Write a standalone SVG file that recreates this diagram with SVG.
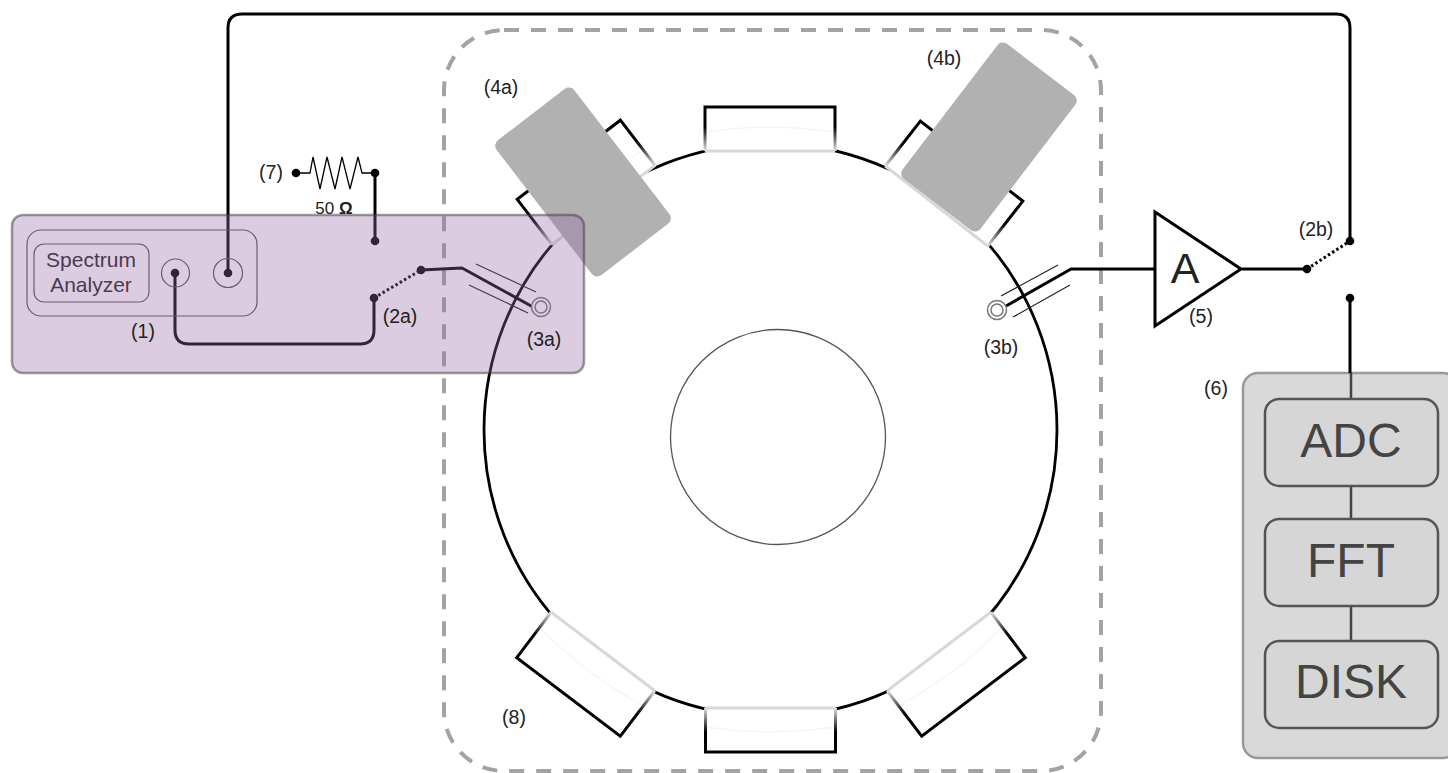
<svg xmlns="http://www.w3.org/2000/svg" width="1448" height="773" viewBox="0 0 1448 773">
<style>
text{font-family:"Liberation Sans",Arial,sans-serif;fill:#222}
.lb{font-size:19.500px;text-anchor:middle}
.w{fill:none;stroke:#000;stroke-width:3;stroke-linejoin:round}
.dot{fill:#000}
.dt{fill:none;stroke:#000;stroke-width:3;stroke-dasharray:2.5 2.5}
.thin{fill:none;stroke:#222;stroke-width:1.2}
.port-b{fill:#fff;stroke:none}
.base{stroke:#d8d8d8;stroke-width:3;fill:none}
.gr{fill:#b1b1b1}
.proc{fill:#d6d6d6;stroke:#555;stroke-width:2.5}
.proct{font-size:48px;text-anchor:middle;fill:#444}
</style>
<defs>
<linearGradient id="g57" gradientUnits="userSpaceOnUse" x1="0" y1="0" x2="0" y2="-57"><stop offset="0" stop-color="#e0e0e0"/><stop offset="0.5" stop-color="#000"/></linearGradient>
<linearGradient id="g44" gradientUnits="userSpaceOnUse" x1="0" y1="0" x2="0" y2="-44"><stop offset="0" stop-color="#e0e0e0"/><stop offset="0.55" stop-color="#000"/></linearGradient>
<g id="portS"><rect class="port-b" x="-65" y="-44" width="130" height="45"/><path d="M-65-19Q0-29 65-19" fill="none" stroke="#f2f2f2"/><path d="M-65 0V-44H65V0" fill="none" stroke="url(#g44)" stroke-width="3"/><path class="base" d="M-65 0H65"/></g>
<g id="portL"><rect class="port-b" x="-65" y="-57" width="130" height="58"/><path d="M-65-19Q0-29 65-19" fill="none" stroke="#f2f2f2"/><path d="M-65 0V-57H65V0" fill="none" stroke="url(#g57)" stroke-width="3"/><path class="base" d="M-65 0H65"/></g>
</defs>
<g id="enclosure"><rect x="444" y="30" width="657" height="741" rx="60" fill="none" stroke="#a3a3a3" stroke-width="4" stroke-dasharray="15 12"/></g>
<g id="cavity">
<circle cx="770.5" cy="430" r="286.5" fill="#fff" stroke="#000" stroke-width="2.800"/>
<circle cx="778" cy="437" r="107.5" fill="none" stroke="#555" stroke-width="1.3"/>
</g>
<g id="ports">
<use href="#portS" transform="translate(770 151)"/>
<use href="#portS" transform="translate(770.5 708) rotate(180)"/>
<use href="#portL" transform="translate(603.5 205) rotate(-37.5)"/>
<use href="#portL" transform="translate(936.5 206) rotate(38)"/>
<use href="#portL" transform="translate(603 651.5) rotate(-142.8)"/>
<use href="#portL" transform="translate(939 651.5) rotate(142.8)"/>
</g>
<g id="tuner-4a"><rect class="gr" x="-85" y="-49" width="170" height="98" rx="7" transform="translate(583 182) rotate(52.5)"/></g>
<g id="tuner-4b"><rect class="gr" x="-85" y="-49" width="170" height="98" rx="7" transform="translate(989 137) rotate(-52.6)"/></g>
<g id="connectors">
<path class="w" d="M228 273V28Q228 14 242 14H1336Q1350 14 1350 28V241"/>
<path class="w" d="M175 273V330Q175 344 189 344H360Q374 344 374 330V298"/>
<path class="dt" d="M374 298L421 270"/>
<path class="w" d="M421 270L462 268L533 307"/>
<path class="thin" d="M476 264L536 292M469 285L528 313"/>
<path class="w" d="M375 241V173"/>
<path d="M296 173H310L313 157L320 189L327 157L335 189L342 157L350 189L358 157L362 173H375" fill="none" stroke="#000" stroke-width="1.3"/>
<path class="w" d="M1006 306L1071 269H1155"/>
<path class="thin" d="M1001 296L1058 265M1013 317L1070 285"/>
<path class="w" d="M1242 269H1307"/>
<path class="dt" d="M1307 269L1350 241"/>
</g>
<g id="dots">
<circle class="dot" cx="228" cy="273" r="4.300"/><circle class="dot" cx="175" cy="273" r="4.300"/>
<circle class="dot" cx="374" cy="298" r="4.300"/><circle class="dot" cx="421" cy="270" r="4.300"/>
<circle class="dot" cx="375" cy="241" r="4.300"/><circle class="dot" cx="375" cy="173" r="4.300"/>
<circle class="dot" cx="296" cy="173" r="4.300"/><circle class="dot" cx="1307" cy="269" r="4.300"/>
<circle class="dot" cx="1350" cy="241" r="4.300"/><circle class="dot" cx="1350" cy="298" r="4.300"/>
</g>
<g id="coax-3a" fill="#fff" stroke="#777" stroke-width="1.500"><circle cx="541" cy="307" r="9.5"/><circle cx="541" cy="307" r="6"/></g>
<g id="coax-3b" fill="#fff" stroke="#777" stroke-width="1.500"><circle cx="997" cy="310" r="9.5"/><circle cx="997" cy="310" r="6"/></g>
<g id="analyzer">
<rect x="27" y="230" width="230" height="86" rx="14" fill="none" stroke="#555" stroke-width="1.2"/>
<rect x="34" y="244" width="115" height="58" rx="10" fill="none" stroke="#555" stroke-width="1.2"/>
<circle cx="175.500" cy="273" r="14" fill="none" stroke="#555" stroke-width="1.2"/>
<circle cx="228" cy="273" r="14.500" fill="none" stroke="#555" stroke-width="1.2"/>
<text x="91" y="267" font-size="21" text-anchor="middle">Spectrum</text>
<text x="91" y="292" font-size="21" text-anchor="middle">Analyzer</text>
</g>
<g id="overlay"><rect x="12" y="215" width="572" height="158" rx="11" fill="#9969a5" fill-opacity=".34" stroke="#3c3c3c" stroke-opacity=".5" stroke-width="2.500"/></g>
<g id="amplifier"><path d="M1155 212L1241 269L1155 326Z" fill="#fff" stroke="#000" stroke-width="3" stroke-linejoin="miter"/><text x="1185" y="283" font-size="43" text-anchor="middle">A</text></g>
<g id="processing">
<rect x="1243" y="373" width="215" height="385" rx="15" fill="#d9d9d9" stroke="#999" stroke-width="2.5"/>
<path class="w" d="M1350 298V373"/>
<path stroke="#444" stroke-width="2.500" d="M1351 373V399M1351 486V519M1351 606V641"/>
<g id="adc"><rect class="proc" x="1265" y="399" width="173" height="87" rx="14"/><text class="proct" x="1351" y="457">ADC</text></g>
<g id="fft"><rect class="proc" x="1265" y="519" width="173" height="87" rx="14"/><text class="proct" x="1351" y="577">FFT</text></g>
<g id="disk"><rect class="proc" x="1265" y="641" width="173" height="87" rx="14"/><text class="proct" x="1351" y="698">DISK</text></g>
</g>
<g id="labels">
<text class="lb" x="143" y="338">(1)</text>
<text class="lb" x="400" y="323">(2a)</text>
<text class="lb" x="1316" y="236">(2b)</text>
<text class="lb" x="544" y="346">(3a)</text>
<text class="lb" x="1001" y="354">(3b)</text>
<text class="lb" x="501" y="94">(4a)</text>
<text class="lb" x="944" y="65">(4b)</text>
<text class="lb" x="1201" y="323">(5)</text>
<text class="lb" x="1216" y="395">(6)</text>
<text class="lb" x="271" y="179">(7)</text>
<text class="lb" x="514" y="724">(8)</text>
<text x="334" y="214" font-size="17" text-anchor="middle">50 <tspan font-weight="bold">Ω</tspan></text>
</g>
</svg>
